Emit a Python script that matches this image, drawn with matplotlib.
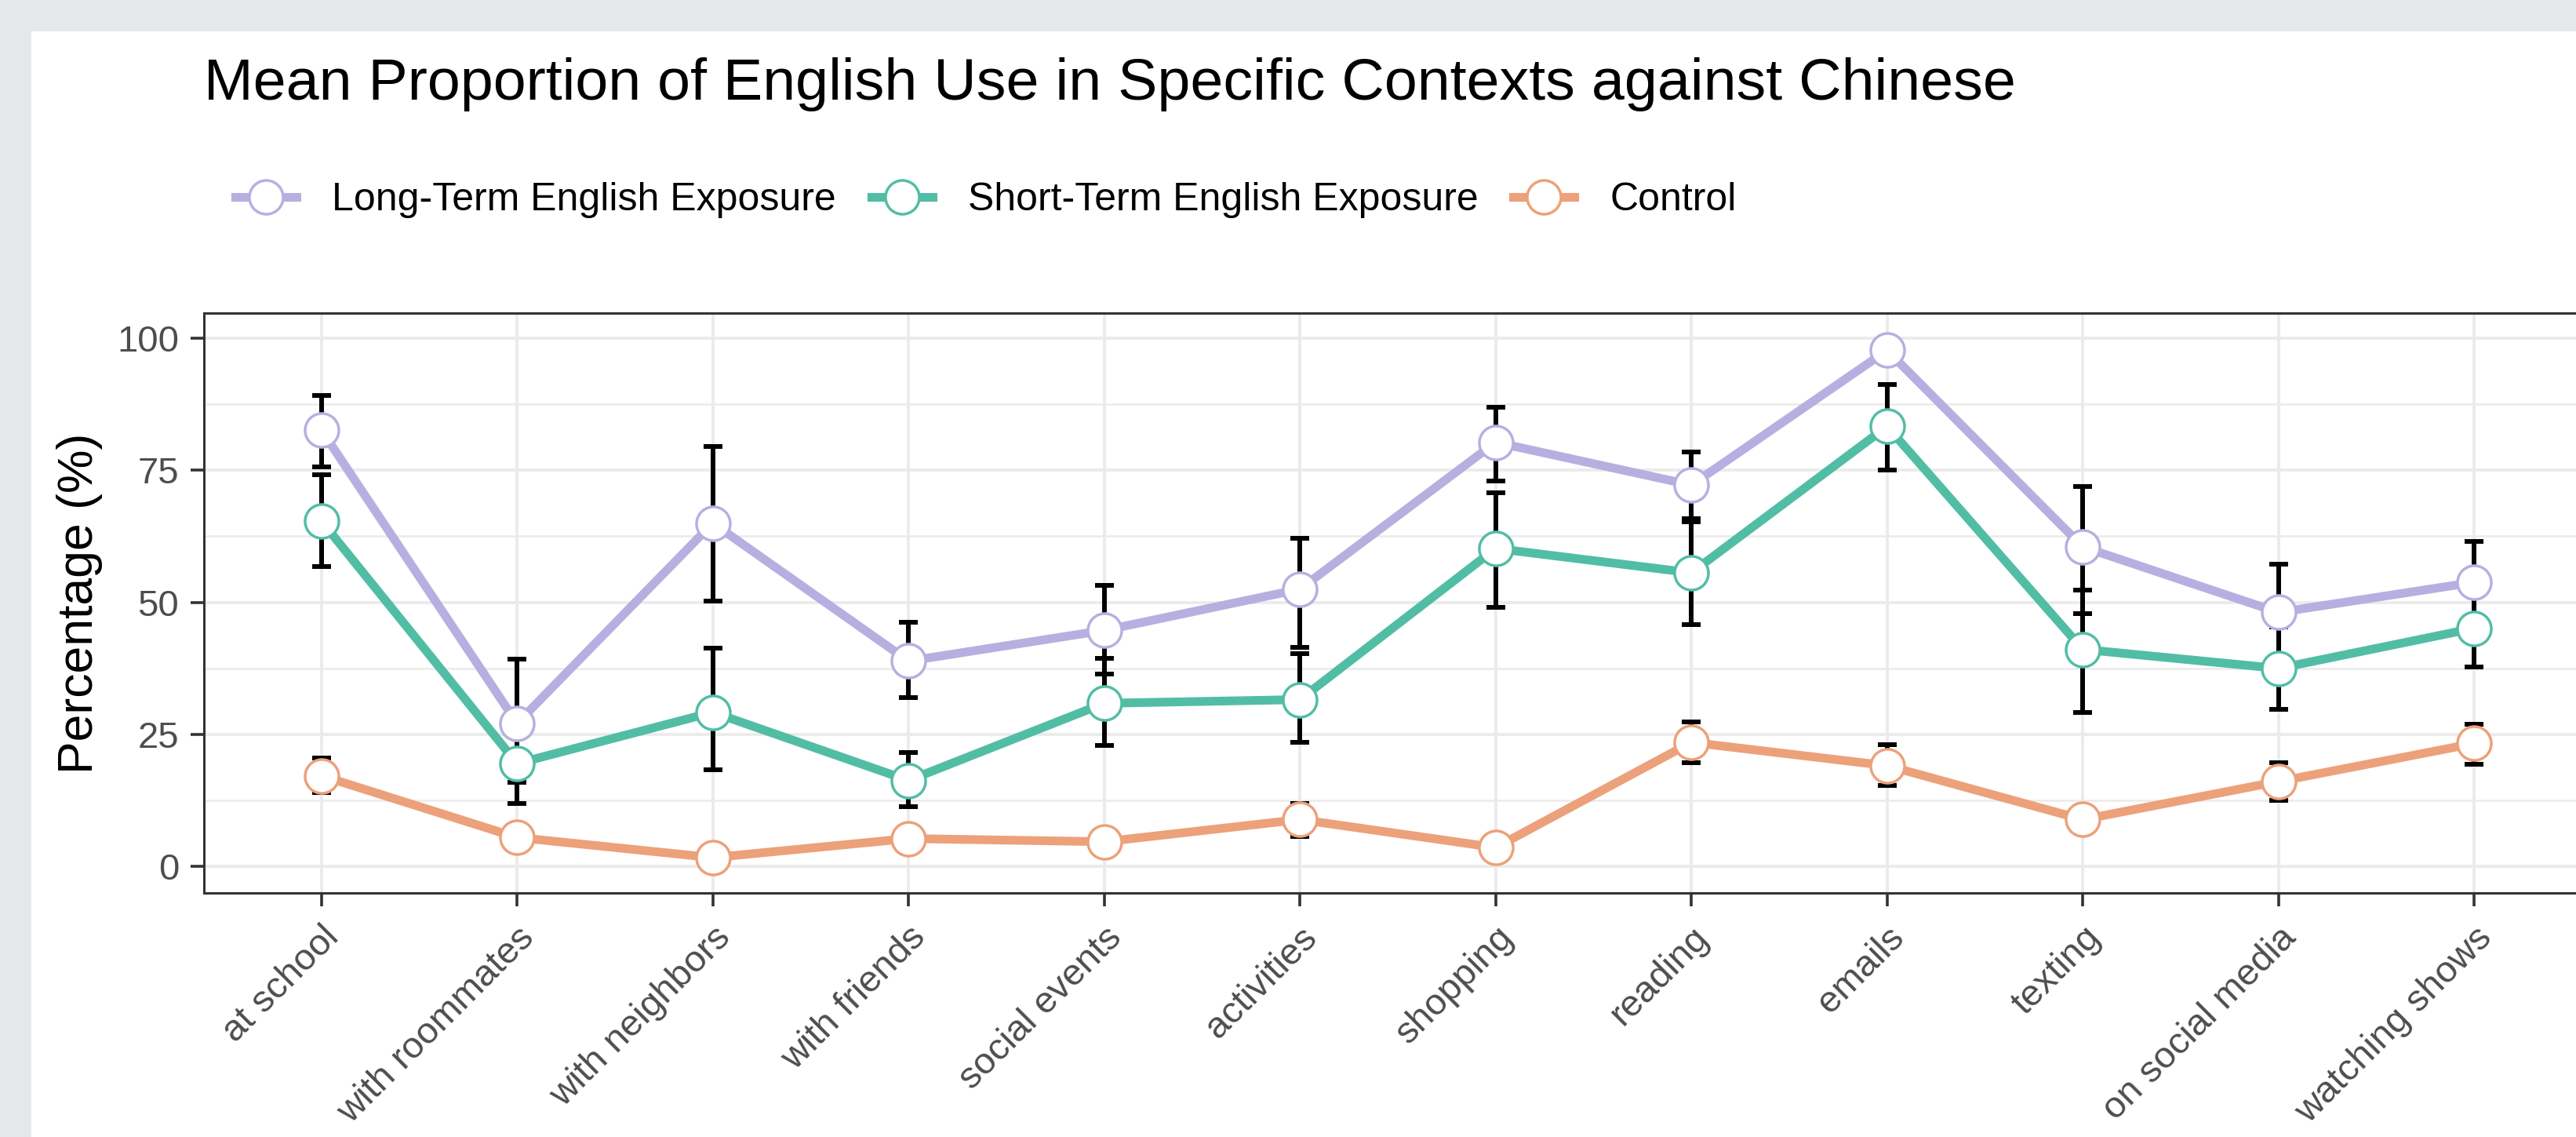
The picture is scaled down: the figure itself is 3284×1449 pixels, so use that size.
import matplotlib
matplotlib.use("Agg")
import matplotlib.pyplot as plt
from matplotlib.lines import Line2D
from matplotlib.patches import Rectangle
from matplotlib.ticker import MultipleLocator
import numpy as np

# contexts on the x axis
contexts = ["at school", "with roommates", "with neighbors", "with friends",
            "social events", "activities", "shopping", "reading", "emails",
            "texting", "on social media", "watching shows"]

groups = ["Long-Term English Exposure", "Short-Term English Exposure", "Control"]
colors = ["#b8afe0", "#52bda5", "#eca17a"]

# mean percentages and error bar limits
long_mean = [82.6, 27.1, 65.0, 38.9, 44.7, 52.5, 80.3, 72.2, 97.7, 60.5, 48.1, 53.8]
long_low = [75.6, 15.9, 50.2, 32.0, 36.5, 41.5, 72.9, 65.8, 96.2, 47.9, 39.0, 46.0]
long_high = [89.2, 39.2, 79.5, 46.2, 53.2, 62.1, 86.9, 78.4, 99.2, 72.0, 57.2, 61.6]

short_mean = [65.4, 19.5, 29.2, 16.3, 30.9, 31.6, 60.2, 55.6, 83.3, 41.1, 37.5, 45.1]
short_low = [56.8, 11.9, 18.3, 11.4, 22.9, 23.5, 49.1, 45.8, 75.0, 29.2, 29.7, 37.7]
short_high = [74.2, 27.1, 41.3, 21.6, 39.4, 40.3, 70.7, 65.2, 91.3, 52.3, 45.3, 52.5]

ctrl_mean = [17.2, 5.5, 1.7, 5.3, 4.7, 8.9, 3.6, 23.5, 19.1, 8.9, 16.1, 23.3]
ctrl_low = [14.0, 4.0, 0.8, 3.8, 3.3, 5.7, 2.5, 19.7, 15.4, 7.2, 12.5, 19.3]
ctrl_high = [20.6, 7.0, 2.6, 6.8, 6.1, 12.0, 4.7, 27.4, 23.0, 10.6, 19.7, 26.9]

means = [long_mean, short_mean, ctrl_mean]
lows = [long_low, short_low, ctrl_low]
highs = [long_high, short_high, ctrl_high]

plt.rcParams['font.family'] = ['Liberation Sans', 'DejaVu Sans']

W, H = 3284, 1449
fig = plt.figure(figsize=(W / 100, H / 100), dpi=100)
fig.patch.set_facecolor("#e4e8eb")
fig.patches.append(Rectangle((40 / W, 0), 1, 1 - 40 / H, transform=fig.transFigure,
                             facecolor="white", edgecolor="none", zorder=-10))

# panel runs past the right edge, as in the reference
ax_left, ax_right, ax_top, ax_bot = 260, 3304, 399, 1138
ax = fig.add_axes([ax_left / W, 1 - ax_bot / H, (ax_right - ax_left) / W, (ax_bot - ax_top) / H])

x = np.arange(1, len(contexts) + 1)
lw = 8.0
ms = 31
mew = 2.5

for m, c in zip(means, colors):
    ax.plot(x, m, color=c, lw=lw, zorder=2, solid_joinstyle="round")

for m, lo, hi in zip(means, lows, highs):
    m = np.array(m)
    err = [m - np.array(lo), np.array(hi) - m]
    ax.errorbar(x, m, yerr=err, fmt="none", ecolor="black", elinewidth=4.3,
                capsize=8.6, capthick=4.3, zorder=3)

for m, c in zip(means, colors):
    ax.plot(x, m, "o", ms=ms, mfc="white", mec=c, mew=mew, zorder=4, ls="none")

ax.set_xlim(0.4, 12.6)
ax.set_ylim(-5.0, 104.75)
ax.set_xticks(x)
ax.set_xticklabels(contexts, rotation=45, ha="right", va="top", rotation_mode="anchor")
ax.yaxis.set_major_locator(MultipleLocator(25))
ax.yaxis.set_minor_locator(MultipleLocator(12.5))

ax.grid(which="major", color="#ebebeb", lw=2.8, zorder=0)
ax.grid(which="minor", axis="y", color="#ebebeb", lw=1.8, zorder=0)
ax.set_axisbelow(True)

for s in ax.spines.values():
    s.set_color("#333333")
    s.set_linewidth(2.2)

ax.tick_params(axis="both", which="major", length=12, width=2.6, color="#333333",
               labelcolor="#4d4d4d", labelsize=34, pad=11)
ax.tick_params(axis="y", which="minor", length=0)
ax.tick_params(axis="x", pad=13)

ax.set_ylabel("Percentage (%)", fontsize=45, color="black", labelpad=13)

fig.text(260 / W, 1 - 127 / H,
         "Mean Proportion of English Use in Specific Contexts against Chinese",
         fontsize=54.3, color="black", ha="left", va="baseline")

handles = [Line2D([], [], color=c, lw=lw, marker="o", ms=ms, mfc="white", mec=c, mew=mew)
           for c in colors]
fig.legend(handles, groups, loc="center left", bbox_to_anchor=(300 / W, 1 - 255 / H),
           ncol=3, frameon=False, fontsize=36, handlelength=1.56, handletextpad=0.9,
           columnspacing=0.9, borderpad=0, borderaxespad=0)

plt.savefig("out.png", dpi=100, facecolor=fig.get_facecolor())
